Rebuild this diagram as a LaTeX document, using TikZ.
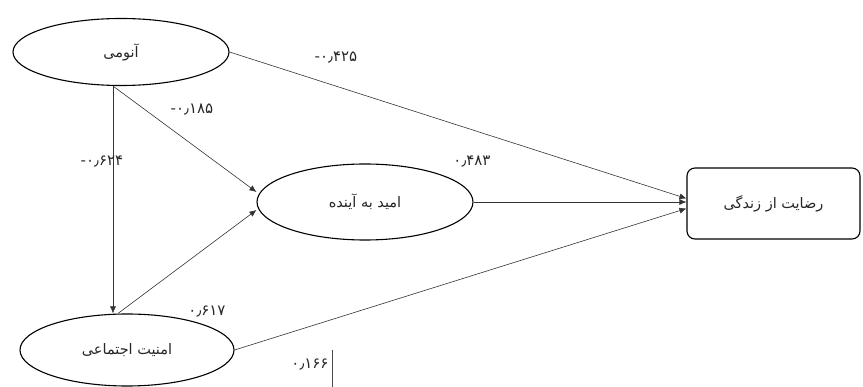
\documentclass[tikz,border=0pt]{standalone}
\usepackage{fontspec}
\newfontfamily\farsi[Script=Arabic]{DejaVu Sans}
\newfontfamily\farsinum{DejaVu Sans}
\TeXXeTstate=1
\usetikzlibrary{shapes.geometric,arrows.meta}
\tikzset{
  latent/.style={ellipse,draw,line width=1.1pt,inner sep=0pt,font=\farsi\fontsize{14.5}{16}\selectfont,text=black!85},
  observed/.style={rectangle,rounded corners=8pt,draw,line width=1.1pt,inner sep=0pt,font=\farsi\fontsize{14.5}{16}\selectfont,text=black!85},
  path/.style={-{Latex[length=7pt,width=6pt]},draw=black!80,line width=0.6pt},
  coef/.style={font=\farsinum\fontsize{15}{17}\selectfont,text=black!85}
}
\begin{document}
\begin{tikzpicture}[x=1pt,y=-1pt]
\useasboundingbox (0,0) rectangle (863,387);
\node[latent,minimum width=216pt,minimum height=67pt] (anomie) at (121,52) {\beginR آنومی\endR};
\node[latent,minimum width=216pt,minimum height=76pt] (hope) at (365,202) {\beginR امید به آینده\endR};
\node[latent,minimum width=214pt,minimum height=72pt] (security) at (127,350) {\beginR امنیت اجتماعی\endR};
\node[observed,minimum width=173pt,minimum height=71pt] (satisf) at (773.5,203.5) {\beginR رضایت از زندگی\endR};
\draw[path] ([xshift=-8pt]anomie.south) -- ([xshift=-8pt]anomie.south |- security.north);
\draw[path] ([xshift=-8pt]anomie.south) -- ([yshift=10pt]hope.west);
\draw[path] ([xshift=-9pt]security.north) -- ([yshift=-8pt]hope.west);
\draw[path] (anomie.east) -- ([yshift=5pt]satisf.west);
\draw[path] (hope.east) -- (hope.east -| satisf.west);
\draw[path] (security.east) -- ([yshift=-5pt]satisf.west);
\node[coef] (c1) at (336,58) {-۰٫۴۲۵};
\node[coef] (c2) at (192,110) {-۰٫۱۸۵};
\node[coef] (c3) at (102,162) {-۰٫۶۲۴};
\node[coef] (c4) at (472,162) {۰٫۴۸۳};
\node[coef] (c5) at (207,312) {۰٫۶۱۷};
\node[coef] (c6) at (310,365) {۰٫۱۶۶};
\draw[black!70,line width=0.8pt] (332,350) -- (332,387);
\end{tikzpicture}
\end{document}
